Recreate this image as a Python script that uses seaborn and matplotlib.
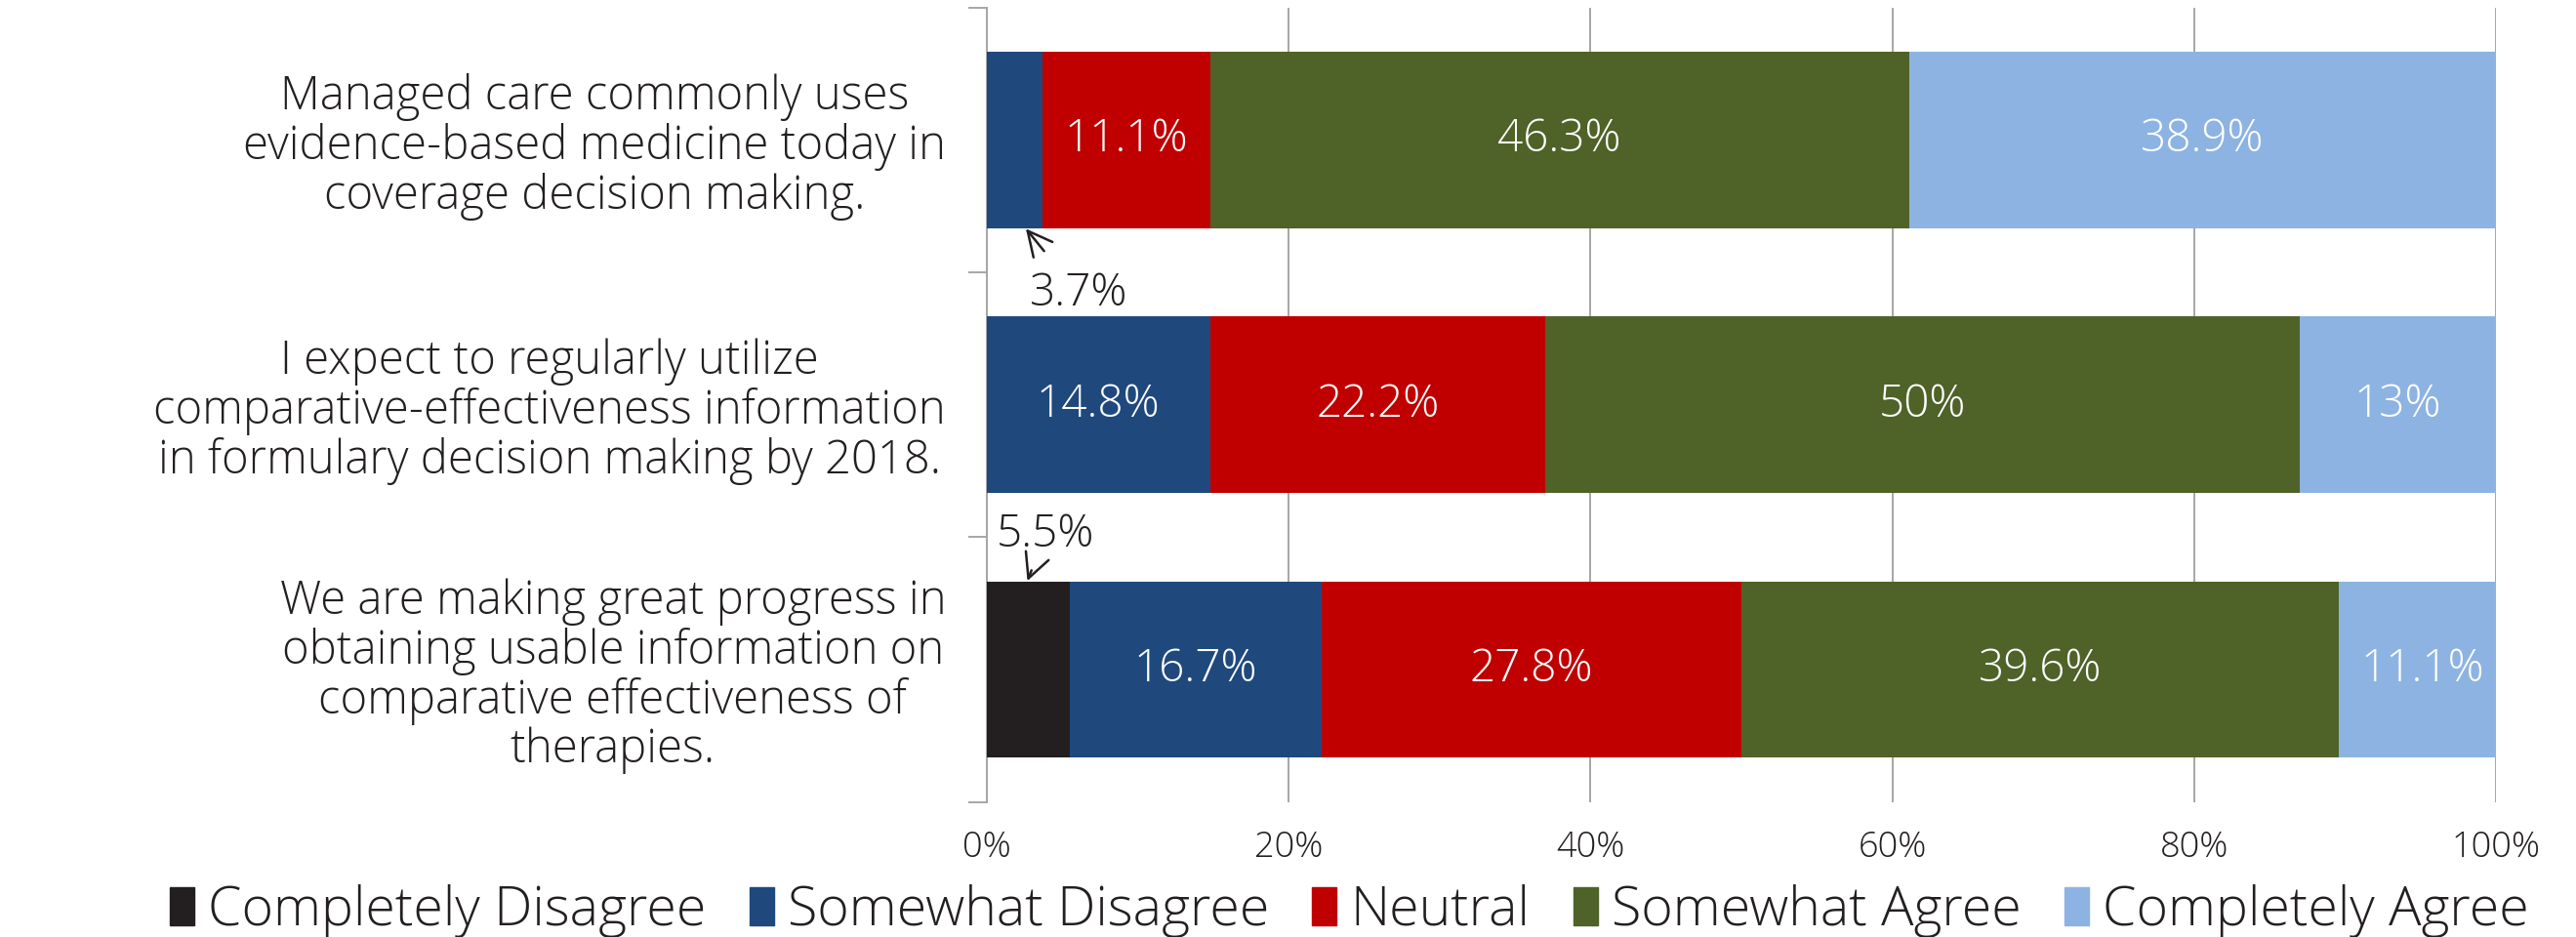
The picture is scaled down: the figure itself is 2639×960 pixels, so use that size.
import matplotlib
matplotlib.use("Agg")
import matplotlib.pyplot as plt
import matplotlib.patches as mpatches
import numpy as np
import pandas as pd
import seaborn as sns

# ── data ──────────────────────────────────────────────────────────────────────
statements = [
    "Managed care commonly uses\nevidence-based medicine today in\ncoverage decision making.",
    "I expect to regularly utilize\ncomparative-effectiveness information\nin formulary decision making by 2018.",
    "We are making great progress in\nobtaining usable information on\ncomparative effectiveness of\ntherapies.",
]
responses = ["Completely Disagree", "Somewhat Disagree", "Neutral",
             "Somewhat Agree", "Completely Agree"]
completely_disagree = [0.0, 0.0, 5.5]
somewhat_disagree = [3.7, 14.8, 16.7]
neutral = [11.1, 22.2, 27.8]
somewhat_agree = [46.3, 50.0, 39.6]
completely_agree = [38.9, 13.0, 11.1]
colors = ["#231F20", "#1F497D", "#C00000", "#4F6228", "#8DB3E2"]

sns.set_theme(style="white")
plt.rcParams["font.family"] = ["Open Sans", "DejaVu Sans"]
TXT = "#231F20"
WT = "light"

df = pd.DataFrame({
    "statement": statements,
    responses[0]: completely_disagree,
    responses[1]: somewhat_disagree,
    responses[2]: neutral,
    responses[3]: somewhat_agree,
    responses[4]: completely_agree,
})
cum = df[responses].cumsum(axis=1)

fig = plt.figure(figsize=(26.39, 9.6), dpi=100)
ax = fig.add_axes([0.383, 0.144, 0.586, 0.848])

# stacked bars: draw cumulative totals from the last segment to the first
for resp, col in reversed(list(zip(responses, colors))):
    sns.barplot(x=cum[resp], y=df["statement"], color=col, orient="h",
                width=0.665, ax=ax, saturation=1, edgecolor="none", zorder=3)

# segment labels
for i in range(len(df)):
    for resp in responses:
        v = df.loc[i, resp]
        if v >= 10:
            xc = cum.loc[i, resp] - v / 2
            ax.text(xc, i, f"{v:g}%", ha="center", va="center", color="white",
                    fontsize=33, fontweight=WT, zorder=5)

# small segments annotated outside with arrows
arrow = dict(arrowstyle="->", color=TXT, lw=1.8, mutation_scale=45,
             shrinkB=0)
ax.annotate("3.7%", xy=(2.6, 0.335), xytext=(6.1, 0.58), ha="center",
            va="center", fontsize=33, fontweight=WT, color=TXT,
            arrowprops=dict(arrow, shrinkA=16), zorder=6)
ax.annotate("5.5%", xy=(2.7, 1.665), xytext=(3.9, 1.49), ha="center",
            va="center", fontsize=33, fontweight=WT, color=TXT,
            arrowprops=dict(arrow, shrinkA=8), zorder=6)

ax.set_xlim(0, 100)
ax.set_ylim(2.5, -0.5)
ax.set_xticks(np.arange(0, 101, 20))
ax.set_xticklabels([f"{t}%" for t in range(0, 101, 20)], fontsize=26,
                   fontweight=WT, color=TXT)
ax.xaxis.grid(True, color="#A6A6A6", lw=1.4, zorder=0)
ax.set_axisbelow(True)
ax.set_xlabel("")
ax.set_ylabel("")

ax.set_yticks([-0.5, 0.5, 1.5, 2.5], minor=True)
ax.tick_params(axis="y", which="major", length=0, pad=30)
ax.tick_params(axis="y", which="minor", length=14, width=1.4, color="#A6A6A6",
               left=True)
ax.tick_params(axis="x", length=0, pad=20)
for t in ax.get_yticklabels():
    t.set_fontsize(34)
    t.set_fontweight(WT)
    t.set_color(TXT)
    t.set_multialignment("center")
    t.set_linespacing(1.05)

for s in ["top", "right", "bottom"]:
    ax.spines[s].set_visible(False)
ax.spines["left"].set_color("#A6A6A6")
ax.spines["left"].set_linewidth(1.4)

handles = [mpatches.Patch(color=c, label=r) for r, c in zip(responses, colors)]
fig.legend(handles=handles, loc="center left", bbox_to_anchor=(0.047, 0.028),
           ncol=5, frameon=False, handlelength=0.45,
           handleheight=0.7, handletextpad=0.25, columnspacing=0.8,
           prop={"size": 40, "weight": WT}, labelcolor=TXT)

fig.savefig("out.png", dpi=100)
plt.close()
